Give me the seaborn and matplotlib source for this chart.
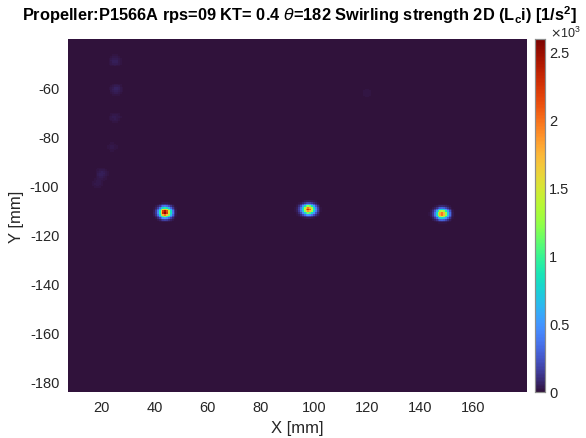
import numpy as np
import pandas as pd
import matplotlib
matplotlib.use("Agg")
import matplotlib.pyplot as plt
import seaborn as sns

# ---- data ----
x_range = [7.2, 179.8]          # mm
y_range = [-40.0, -184.2]       # mm (top, bottom)
grid_step = 0.7                 # mm
# vortex cores: centre x, centre y, peak (x10^3 1/s^2), core width x, core width y (mm)
vortex_x = [43.9, 97.9, 148.2]
vortex_y = [-110.8, -109.6, -111.4]
vortex_peak = [2.58, 2.25, 2.05]
vortex_wx = [1.45, 1.55, 1.5]
vortex_wy = [1.3, 1.25, 1.25]
# faint spots near the upper left
faint_x = [25.0, 25.5, 25.0, 20.0, 18.5, 24.0, 120.0]
faint_y = [-49.0, -60.5, -72.0, -95.0, -99.0, -84.0, -62.0]
faint_peak = [0.05, 0.06, 0.035, 0.05, 0.03, 0.025, 0.02]
vmin, vmax = 0.0, 2.59
x_ticks = [20, 40, 60, 80, 100, 120, 140, 160]
y_ticks = [-60, -80, -100, -120, -140, -160, -180]
cbar_ticks = [0, 0.5, 1, 1.5, 2, 2.5]

# ---- build the field ----
xs = np.arange(x_range[0], x_range[1], grid_step)
ys = np.arange(y_range[0], y_range[1], -grid_step)
X, Y = np.meshgrid(xs + grid_step / 2, ys - grid_step / 2)
Z = np.zeros_like(X)
for cx, cy, p, wx, wy in zip(vortex_x, vortex_y, vortex_peak, vortex_wx, vortex_wy):
    Z += p * np.exp(-((X - cx) ** 2 / (2 * wx ** 2) + (Y - cy) ** 2 / (2 * wy ** 2)))
for cx, cy, p in zip(faint_x, faint_y, faint_peak):
    Z += p * np.exp(-((X - cx) ** 2 + (Y - cy) ** 2) / (2 * 1.4 ** 2))
df = pd.DataFrame(Z)

sns.set_theme(style="white")
plt.rcParams["font.family"] = ["Liberation Sans", "DejaVu Sans"]

fig = plt.figure(figsize=(5.86, 4.39), dpi=100)
ax = fig.add_axes([67.7 / 586, 46 / 439, 459 / 586, 353 / 439])
cax = fig.add_axes([535 / 586, 46 / 439, 10 / 586, 353 / 439])

sns.heatmap(df, ax=ax, cbar_ax=cax, cmap="turbo", vmin=vmin, vmax=vmax,
            xticklabels=False, yticklabels=False, rasterized=True)

ax.set_xticks([(v - x_range[0]) / grid_step for v in x_ticks])
ax.set_xticklabels([str(v) for v in x_ticks], fontsize=10.5, color="#262626")
ax.set_yticks([(y_range[0] - v) / grid_step for v in y_ticks])
ax.set_yticklabels([str(v) for v in y_ticks], fontsize=10.5, color="#262626", rotation=0)
ax.tick_params(length=0, pad=6)
ax.set_xlabel("X [mm]", fontsize=12, color="#262626", labelpad=4)
ax.set_ylabel("Y [mm]", fontsize=12, color="#262626", labelpad=4)
for s in ax.spines.values():
    s.set_visible(False)

cax.set_yticks(cbar_ticks)
cax.set_yticklabels(["0", "0.5", "1", "1.5", "2", "2.5"], fontsize=10.5, color="#262626")
cax.tick_params(axis="y", length=3, direction="in", pad=3, right=True, left=False,
                color="#404040", width=0.6)
for s in cax.spines.values():
    s.set_visible(True)
    s.set_color("#8c8c8c")
    s.set_linewidth(0.8)

fig.text(300 / 586, 1 - 15 / 439,
         r"Propeller:P1566A rps=09 KT= 0.4 $\theta$=182 Swirling strength 2D (L$_\mathregular{c}$i) [1/s$^\mathregular{2}$]",
         ha="center", va="center", fontsize=11.8, fontweight="bold", color="black")
fig.text(550 / 586, 1 - 33 / 439, r"$\times$10$^\mathregular{3}$", ha="left", va="center",
         fontsize=9, color="#262626")

fig.savefig("out.png", dpi=100)
